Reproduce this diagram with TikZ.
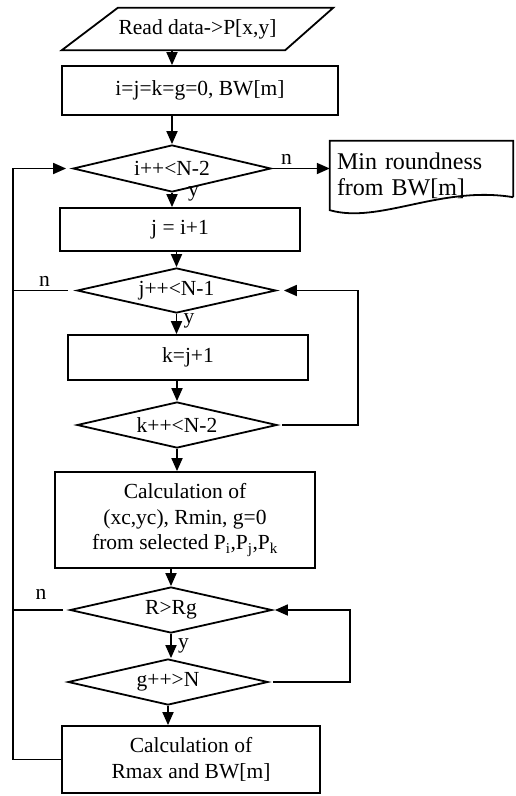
\documentclass[tikz,border=0pt]{standalone}
\usepackage{fontspec}
\setmainfont{Liberation Serif}
\usetikzlibrary{shapes.geometric,arrows.meta}

\tikzset{
  proc/.style={draw, rectangle, line width=1.8pt, inner sep=0pt, align=center},
  test/.style={draw, diamond, line width=1.8pt, inner sep=0pt, aspect=4},
  flow/.style={line width=1.8pt, -{Triangle[length=13pt,width=11pt]}},
  link/.style={line width=1.8pt}
}

\begin{document}
\begin{tikzpicture}[x=1pt, y=-1pt, font=\fontsize{21.5}{25.5}\selectfont]
\useasboundingbox (0,0) rectangle (516,796);

% Input
\node[rectangle, inner sep=0pt, minimum width=271, minimum height=42] (read) at (197.5,29) {Read data->P[x,y]};
\draw[link] (read.south west) -- ([xshift=-48pt]read.south east) -- (read.north east)
  -- ([xshift=56pt]read.north west) -- cycle;

% Boxes and tests
\node[proc, minimum width=276, minimum height=49] (init) at (200,90.5) {i=j=k=g=0, BW[m]};
\node[test, minimum width=198, minimum height=47] (di) at (172,168.5) {i++<N-2};
\node[proc, minimum width=240, minimum height=43] (setj) at (180,229.5) {j = i+1};
\node[test, minimum width=199, minimum height=45] (dj) at (176.5,290.5) {j++<N-1};
\node[proc, minimum width=240, minimum height=45] (setk) at (188,357.5) {k=j+1};
\node[test, minimum width=200, minimum height=46] (dk) at (177,425) {k++<N-2};
\node[proc, minimum width=260, minimum height=96] (calc) at (185,520)
  {Calculation of\\(xc,yc), Rmin, g=0\\from selected P\textsubscript{i},P\textsubscript{j},P\textsubscript{k}};
\node[test, minimum width=202, minimum height=46] (dr) at (171,610) {R>Rg};
\node[test, minimum width=200, minimum height=46] (dg) at (168,682) {g++>N};
\node[proc, minimum width=258, minimum height=67] (rmax) at (191,759.5) {Calculation of\\Rmax and BW[m]};

% Output
\node[rectangle, inner xsep=7pt, inner ysep=0pt, text width=169pt, minimum height=69, align=left,
  font=\fontsize{24}{26}\selectfont] (minout) at (421.5,175.5)
  {Min roundness\\from BW[m]};
\draw[link] ([yshift=13pt]minout.south east) -- (minout.north east) -- (minout.north west)
  -- (minout.south west)
  .. controls ([xshift=50pt,yshift=-14pt]minout.south west) and ([xshift=-73pt,yshift=25pt]minout.south east)
  .. ([yshift=13pt]minout.south east);

% Spine coordinates
\coordinate (lft) at (13,0);
\coordinate (rgt) at (358,0);
\coordinate (rgg) at (350,0);

% Main flow
\draw[flow] (read.south -| di.north) -- (init.north -| di.north);
\draw[flow] (init.south -| di.north) -- (di.north);
\draw[flow] (di.south) -- (di.south |- setj.north) node[pos=0.05, right, xshift=12pt] {y};
\draw[flow] (setj.south -| dj.north) -- (dj.north);
\draw[flow] (dj.south) -- (dj.south |- setk.north) node[pos=0.35, right, xshift=3pt] {y};
\draw[flow] (setk.south -| dk.north) -- (dk.north);
\draw[flow] (dk.south) -- (dk.south |- calc.north);
\draw[flow] (calc.south -| dr.north) -- (dr.north);
\draw[flow] (dr.south) -- (dr.south |- dg.north) node[pos=0.5, right, xshift=3pt] {y};
\draw[flow] (dg.south) -- (dg.south |- rmax.north);

% Exit
\draw[flow] (di.east) -- (di.east -| minout.west) node[pos=0.25, above] {n};

% Loops
\draw[flow, shorten >=6pt] (rmax.west) -- (rmax.west -| lft) |- (di.west);
\draw[link, shorten <=8pt] (dj.west) -- (dj.west -| lft) node[pos=0.5, above] {n};
\draw[link, shorten <=6pt] (dr.west) -- (dr.west -| lft) node[pos=0.5, above, yshift=6pt] {n};
\draw[flow, shorten <=4pt, shorten >=7pt] (dk.east) -- (dk.east -| rgt) |- (dj.east);
\draw[flow, shorten <=4pt, shorten >=2pt] (dg.east) -- (dg.east -| rgg) |- (dr.east);

\end{tikzpicture}
\end{document}
